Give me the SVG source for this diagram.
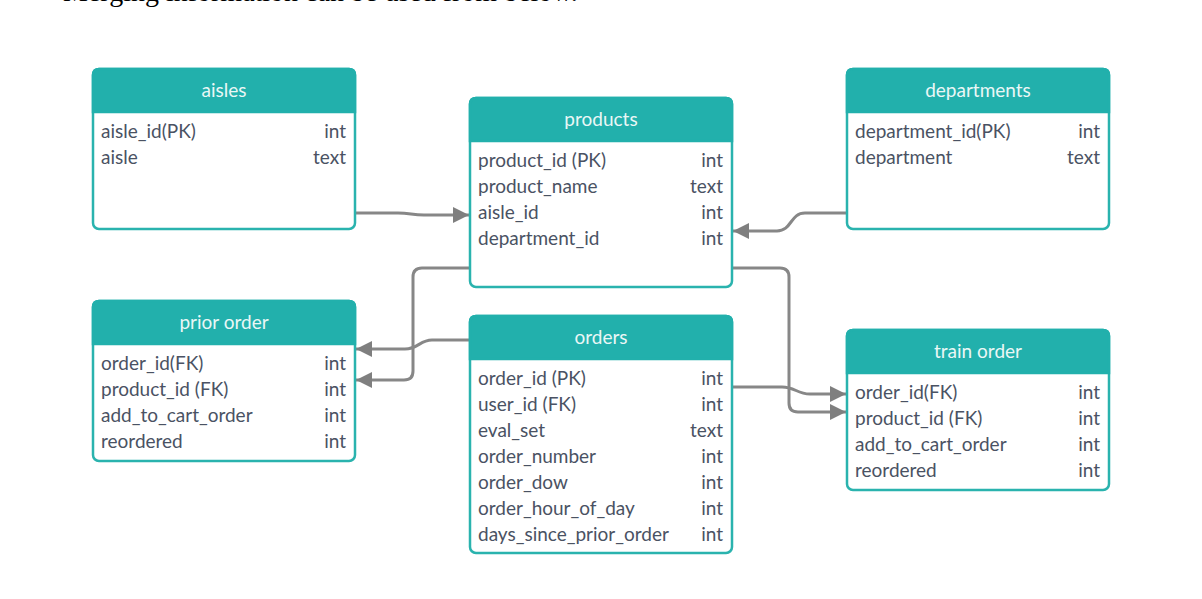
<svg xmlns="http://www.w3.org/2000/svg" width="1202" height="599" viewBox="0 0 1202 599">
<defs>
<style>
.box{fill:#ffffff;stroke:#2ab3ae;stroke-width:2.5}
.hdr{fill:#22b0ac;stroke:#22b0ac;stroke-width:2.5}
.ttl{font-family:Lato,"Liberation Sans",sans-serif;font-size:19px;fill:#eaf7f6;text-anchor:middle}
.f{font-family:Lato,"Liberation Sans",sans-serif;font-size:19px;fill:#4a5263}
.t{font-family:Lato,"Liberation Sans",sans-serif;font-size:19px;fill:#4a5263;text-anchor:end}
.c{fill:none;stroke:#878787;stroke-width:3}
</style>
<marker id="ah" markerUnits="userSpaceOnUse" markerWidth="18" markerHeight="18" refX="16" refY="9" orient="auto" viewBox="0 0 18 18">
<path d="M0,1 L16,9 L0,17 Z" fill="#7f7f7f"/>
</marker>
</defs>
<rect width="1202" height="599" fill="#ffffff"/>
<text x="63" y="1" font-family="'Liberation Serif',serif" font-size="28" fill="#000">Merging information can be used from below.</text>

<g id="connectors">
<path class="c" d="M356,213 H398 C410,213 412,215 424,215 H469" marker-end="url(#ah)"/>
<path class="c" d="M847,213 H805 C790,213 792,231 777,231 H733" marker-end="url(#ah)"/>
<path class="c" d="M470,268 H422 Q413,268 413,277 V371 Q413,380 404,380 H356" marker-end="url(#ah)"/>
<path class="c" d="M470,340 H432 C420,340 418,349 405,349 H356" marker-end="url(#ah)"/>
<path class="c" d="M732,387 H782 C795,387 797,394 810,394 H846" marker-end="url(#ah)"/>
<path class="c" d="M732,268 H780 Q789,268 789,277 V403 Q789,412 798,412 H846" marker-end="url(#ah)"/>
</g>

<g id="aisles">
<rect class="box" x="93" y="69" width="262" height="160" rx="6"/>
<path class="hdr" d="M93,112 V75 Q93,69 99,69 H349 Q355,69 355,75 V112 Z"/>
<text class="ttl" x="224" y="97">aisles</text>
<text class="f" x="101" y="138">aisle_id(PK)</text><text class="t" x="346" y="138">int</text>
<text class="f" x="101" y="164">aisle</text><text class="t" x="346" y="164">text</text>
</g>

<g id="products">
<rect class="box" x="470" y="98" width="262" height="189" rx="6"/>
<path class="hdr" d="M470,141 V104 Q470,98 476,98 H726 Q732,98 732,104 V141 Z"/>
<text class="ttl" x="601" y="126">products</text>
<text class="f" x="478" y="167">product_id (PK)</text><text class="t" x="723" y="167">int</text>
<text class="f" x="478" y="193">product_name</text><text class="t" x="723" y="193">text</text>
<text class="f" x="478" y="219">aisle_id</text><text class="t" x="723" y="219">int</text>
<text class="f" x="478" y="245">department_id</text><text class="t" x="723" y="245">int</text>
</g>

<g id="departments">
<rect class="box" x="847" y="69" width="262" height="160" rx="6"/>
<path class="hdr" d="M847,112 V75 Q847,69 853,69 H1103 Q1109,69 1109,75 V112 Z"/>
<text class="ttl" x="978" y="97">departments</text>
<text class="f" x="855" y="138">department_id(PK)</text><text class="t" x="1100" y="138">int</text>
<text class="f" x="855" y="164">department</text><text class="t" x="1100" y="164">text</text>
</g>

<g id="prior_order">
<rect class="box" x="93" y="301" width="262" height="160" rx="6"/>
<path class="hdr" d="M93,344 V307 Q93,301 99,301 H349 Q355,301 355,307 V344 Z"/>
<text class="ttl" x="224" y="329">prior order</text>
<text class="f" x="101" y="370">order_id(FK)</text><text class="t" x="346" y="370">int</text>
<text class="f" x="101" y="396">product_id (FK)</text><text class="t" x="346" y="396">int</text>
<text class="f" x="101" y="422">add_to_cart_order</text><text class="t" x="346" y="422">int</text>
<text class="f" x="101" y="448">reordered</text><text class="t" x="346" y="448">int</text>
</g>

<g id="orders">
<rect class="box" x="470" y="316" width="262" height="237" rx="6"/>
<path class="hdr" d="M470,359 V322 Q470,316 476,316 H726 Q732,316 732,322 V359 Z"/>
<text class="ttl" x="601" y="344">orders</text>
<text class="f" x="478" y="385">order_id (PK)</text><text class="t" x="723" y="385">int</text>
<text class="f" x="478" y="411">user_id (FK)</text><text class="t" x="723" y="411">int</text>
<text class="f" x="478" y="437">eval_set</text><text class="t" x="723" y="437">text</text>
<text class="f" x="478" y="463">order_number</text><text class="t" x="723" y="463">int</text>
<text class="f" x="478" y="489">order_dow</text><text class="t" x="723" y="489">int</text>
<text class="f" x="478" y="515">order_hour_of_day</text><text class="t" x="723" y="515">int</text>
<text class="f" x="478" y="541">days_since_prior_order</text><text class="t" x="723" y="541">int</text>
</g>

<g id="train_order">
<rect class="box" x="847" y="330" width="262" height="160" rx="6"/>
<path class="hdr" d="M847,373 V336 Q847,330 853,330 H1103 Q1109,330 1109,336 V373 Z"/>
<text class="ttl" x="978" y="358">train order</text>
<text class="f" x="855" y="399">order_id(FK)</text><text class="t" x="1100" y="399">int</text>
<text class="f" x="855" y="425">product_id (FK)</text><text class="t" x="1100" y="425">int</text>
<text class="f" x="855" y="451">add_to_cart_order</text><text class="t" x="1100" y="451">int</text>
<text class="f" x="855" y="477">reordered</text><text class="t" x="1100" y="477">int</text>
</g>
</svg>
